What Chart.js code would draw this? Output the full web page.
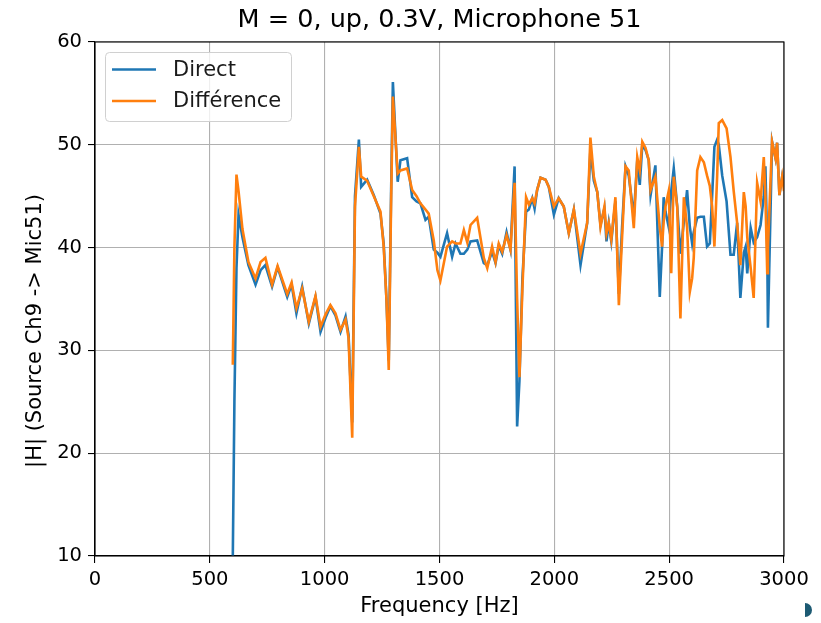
<!DOCTYPE html>
<html>
<head>
<meta charset="utf-8">
<script src="https://cdn.jsdelivr.net/npm/chart.js@4"></script>
<style>
  html, body { margin: 0; padding: 0; background: #fff; }
  #wrap { position: relative; width: 821px; height: 623px; }
  canvas { display: block; }
  #dot { position: absolute; left: 805px; top: 603px; width: 7px; height: 14px; border-radius: 0 7px 7px 0; background: #1d5a73; }
</style>
</head>
<body>
<div id="wrap"><canvas id="c" width="821" height="623"></canvas><div id="dot"></div></div>
<script>
const TITLE = "M = 0, up, 0.3V, Microphone 51";
const X_LABEL = "Frequency [Hz]";
const Y_LABEL = "|H| (Source Ch9 -> Mic51)";
const SERIES_NAMES = ["Direct", "Différence"];
const X_TICKS = [0, 500, 1000, 1500, 2000, 2500, 3000];
const Y_TICKS = [10, 20, 30, 40, 50, 60];

const freq = [600,607,616,625,642,668,699,721,742,771,795,837,856,877,902,931,960,982,1004,1025,1047,1069,1091,1104,1120,1132,1149,1159,1185,1214,1243,1257,1269,1279,1289,1297,1318,1330,1359,1381,1400,1417,1439,1453,1475,1491,1504,1533,1555,1570,1591,1606,1621,1635,1664,1693,1708,1729,1744,1758,1773,1792,1809,1827,1838,1848,1861,1877,1889,1904,1914,1925,1940,1962,1976,1998,2019,2041,2063,2085,2114,2143,2157,2172,2187,2201,2218,2227,2237,2248,2266,2281,2295,2310,2324,2346,2361,2372,2383,2397,2411,2419,2440,2459,2469,2476,2484,2498,2509,2520,2535,2549,2564,2578,2590,2600,2607,2622,2636,2651,2665,2677,2687,2697,2709,2716,2731,2750,2767,2781,2796,2810,2825,2833,2840,2855,2868,2883,2898,2912,2919,2927,2930,2948,2963,2970,2980,2992,3000];

const direct = [10,25,38,43.2,41.0,38.3,36.4,37.8,38.3,36.2,38.1,35.2,36.4,33.6,36.2,32.6,35.2,31.8,33.2,34.3,33.4,31.8,33.3,31.5,23,45,50.5,45.9,46.6,45.1,43.3,40.4,35,29,45,56.1,46.4,48.5,48.7,44.9,44.5,44.3,42.7,43.0,39.8,39.5,39.1,41.4,39.1,40.4,39.4,39.4,39.8,40.6,40.7,38.5,38.3,39.6,38.5,40.2,39.4,41.5,39.8,47.9,22.6,27,37,43.5,43.7,44.8,43.8,45.6,46.8,46.6,45.9,43.2,44.8,44.0,41.4,43.7,38.3,42.4,49.5,46.5,45.4,42.2,43.8,40.6,42.4,40.6,44.5,35.5,42,47.9,47.0,43.0,48.5,46.1,50.0,49.5,48.5,45.1,48.0,35.2,40,44.9,43.5,42.0,45.5,47.7,44.0,39.4,42.5,45.6,42,40.4,41.5,42.9,43.0,43.0,40.1,40.4,45,49.8,50.5,50.0,47,44.5,39.3,39.3,42.4,35.1,39.5,40.1,37.5,41.9,40.5,41,42.2,45,47.9,40,32.2,50.3,48.7,50.2,45.1,46.9,46.0];

const difference = [28.6,40,47.1,45.5,41.8,38.6,37.0,38.6,39.0,36.4,38.2,35.5,36.6,34.1,36.0,32.8,35.3,32.3,33.5,34.4,33.6,32.0,33.0,31.2,21.5,44,49.8,46.9,46.5,45.0,43.5,40.1,35,28.1,44,54.7,47.2,47.5,47.7,45.6,45.0,44.3,43.7,43.3,40.7,37.8,36.8,40.1,40.6,40.4,40.4,41.7,40.5,42.2,42.9,39.0,38.0,40.1,38.6,40.4,39.6,41.2,39.8,46.3,35,27.4,36,44.9,44.2,44.8,44.3,45.6,46.8,46.6,45.9,44.0,44.8,44.0,41.4,43.7,39.4,42.4,50.7,46.9,45.4,42.0,44.0,41.4,42.4,40.8,44.9,34.4,41,47.9,47.5,41.9,48.8,47.5,50.3,49.7,48.5,45.6,46.9,42,40.1,42.5,44,45.5,37.5,46.9,44.0,33.1,44.9,42,35.7,37,39.0,47.5,48.8,48.3,47,46,44.0,40.1,47,52.1,52.4,51.6,48.8,45.5,42.4,38.3,45.4,44,41,38,35.1,46.3,44.5,48.8,45,37.5,40,50.3,48.7,50.2,45.1,46.9,45.5];

const COLORS = ["#1f77b4", "#ff7f0e"];
const FONT = "'DejaVu Sans', sans-serif";

const toPts = (ys) => freq.map((f, i) => ({ x: f, y: ys[i] }));

const titleFix = {
  id: 'titleFix',
  afterLayout(chart) {
    const t = chart.titleBlock;
    if (t) { t.left = chart.chartArea.left; t.right = chart.chartArea.right; t.width = t.right - t.left; }
  }
};

const frame = {
  id: 'frame',
  afterDatasetsDraw(chart) {
    const { ctx, chartArea: a } = chart;
    ctx.save();
    ctx.strokeStyle = '#000';
    ctx.lineWidth = 1.1;
    ctx.strokeRect(a.left, a.top, a.right - a.left, a.bottom - a.top);
    ctx.restore();
  }
};

const yLabel = {
  id: 'yLabel',
  afterDraw(chart) {
    const ctx = chart.ctx;
    ctx.save();
    ctx.translate(36, 331);
    ctx.rotate(-Math.PI / 2);
    ctx.font = "21px " + FONT;
    ctx.fillStyle = '#000';
    ctx.textAlign = 'center';
    ctx.textBaseline = 'middle';
    ctx.fillText(Y_LABEL, 0, 0);
    ctx.restore();
  }
};

const boxLegend = {
  id: 'boxLegend',
  afterDraw(chart) {
    const ctx = chart.ctx;
    ctx.save();
    const x = 105.5, y = 52.5, w = 186, h = 69, r = 4;
    ctx.beginPath();
    ctx.moveTo(x + r, y);
    ctx.arcTo(x + w, y, x + w, y + h, r);
    ctx.arcTo(x + w, y + h, x, y + h, r);
    ctx.arcTo(x, y + h, x, y, r);
    ctx.arcTo(x, y, x + w, y, r);
    ctx.closePath();
    ctx.fillStyle = 'rgba(255,255,255,0.8)';
    ctx.fill();
    ctx.strokeStyle = '#d0d0d0';
    ctx.lineWidth = 1;
    ctx.stroke();
    const rows = [69.5, 101];
    const order = [0, 1];
    order.forEach((i) => {
      const ds = chart.data.datasets[i];
      ctx.beginPath();
      ctx.strokeStyle = ds.borderColor;
      ctx.lineWidth = 2.6;
      ctx.moveTo(112, rows[i]);
      ctx.lineTo(156, rows[i]);
      ctx.stroke();
      ctx.fillStyle = '#1a1a1a';
      ctx.font = "21px " + FONT;
      ctx.textBaseline = 'middle';
      ctx.textAlign = 'left';
      ctx.fillText(ds.label, 173, rows[i] + 1);
    });
    ctx.restore();
  }
};

new Chart(document.getElementById('c'), {
  type: 'line',
  data: {
    datasets: [
      { label: SERIES_NAMES[0], data: toPts(direct), borderColor: COLORS[0], backgroundColor: COLORS[0], borderWidth: 2.6, pointRadius: 0, tension: 0, fill: false, order: 2 },
      { label: SERIES_NAMES[1], data: toPts(difference), borderColor: COLORS[1], backgroundColor: COLORS[1], borderWidth: 2.6, pointRadius: 0, tension: 0, fill: false, order: 1 }
    ]
  },
  options: {
    responsive: false,
    animation: false,
    devicePixelRatio: 1,
    layout: { padding: { left: 0, right: 37, top: 0, bottom: 0 } },
    plugins: {
      legend: { display: false },
      tooltip: { enabled: false },
      title: {
        display: true, text: TITLE, color: '#000',
        font: { family: FONT, size: 25.5, weight: 'normal', lineHeight: 1.2 },
        padding: { top: 4.7, bottom: 6.7 }
      }
    },
    scales: {
      x: {
        type: 'linear', min: 0, max: 3000,
        afterBuildTicks: (s) => { s.ticks = X_TICKS.map(v => ({ value: v })); },
        afterFit: (s) => { s.height = 67; },
        ticks: { color: '#000', font: { family: FONT, size: 19.5 }, padding: 5, maxRotation: 0, autoSkip: false, callback: (v) => String(v) },
        grid: { color: '#b0b0b0', lineWidth: 1.1, tickColor: '#000', tickLength: 7, drawTicks: true },
        border: { display: true, color: '#000', width: 1.1 },
        title: { display: true, text: X_LABEL, color: '#000', font: { family: FONT, size: 21, lineHeight: 1.2 }, padding: { top: 0, bottom: 3.5 } }
      },
      y: {
        type: 'linear', min: 10, max: 60,
        afterBuildTicks: (s) => { s.ticks = Y_TICKS.map(v => ({ value: v })); },
        afterFit: (s) => { s.width = 95; },
        ticks: { color: '#000', font: { family: FONT, size: 19.5 }, padding: 6, autoSkip: false, callback: (v) => String(v) },
        grid: { color: '#b0b0b0', lineWidth: 1.1, tickColor: '#000', tickLength: 7, drawTicks: true },
        border: { display: true, color: '#000', width: 1.1 },
        title: { display: false, text: Y_LABEL }
      }
    }
  },
  plugins: [titleFix, frame, yLabel, boxLegend]
});
</script>
</body>
</html>
